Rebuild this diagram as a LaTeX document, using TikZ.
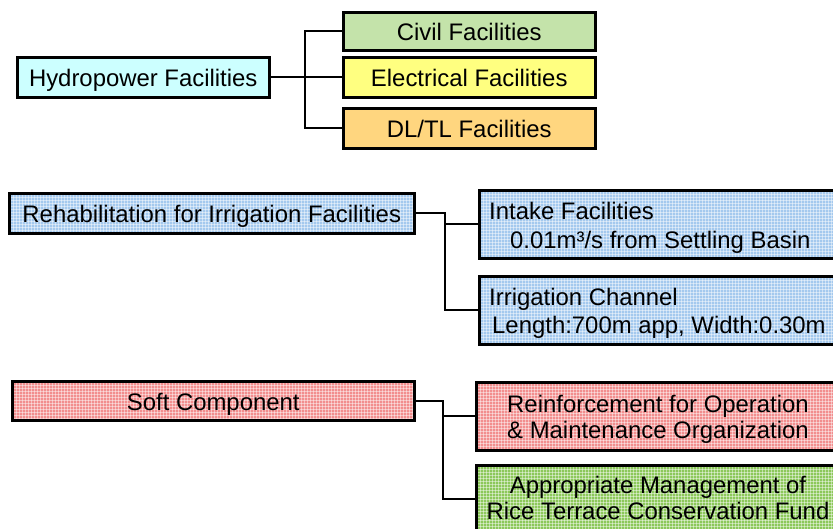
\documentclass[tikz,border=0pt]{standalone}
\usepackage{fontspec}
\setmainfont{Liberation Sans}
\definecolor{hydrofill}{HTML}{CCFFFF}
\definecolor{civilfill}{HTML}{C4E3AA}
\definecolor{elecfill}{HTML}{FFFF80}
\definecolor{linefill}{HTML}{FFD67F}
\definecolor{bluefill}{HTML}{A4C9EE}
\definecolor{pinkfill}{HTML}{F28E8E}
\definecolor{greenfill}{HTML}{8CC85A}
\begin{document}
\begin{tikzpicture}[x=1pt,y=-1pt,
  box/.style={draw=black, line width=2.5pt, inner sep=0pt, anchor=north west,
    font=\fontsize{23.9}{28}\selectfont, text height=19pt, text depth=0pt},
  txt/.style={inner sep=0pt, font=\fontsize{23.9}{28}\selectfont},
  link/.style={draw=black, line width=1.7pt},
  grain/.style={path picture={
    \foreach \k in {1.5,4.5,...,412}{
      \draw[white, opacity=.45, line width=.9pt]
        ([xshift=\k pt]path picture bounding box.north west) --
        ([xshift=\k pt]path picture bounding box.south west);}
    \foreach \k in {1.5,4.5,...,72}{
      \draw[white, opacity=.45, line width=.9pt]
        ([yshift=-\k pt]path picture bounding box.north west) --
        ([yshift=-\k pt]path picture bounding box.north east);}
  }}]
\useasboundingbox (0,0) rectangle (833,528);

% --- hydropower branch ---
\node[box, fill=hydrofill, minimum width=252pt, minimum height=40pt] (hydro) at (16,56) {Hydropower Facilities};
\node[box, fill=civilfill, minimum width=252pt, minimum height=38pt] (civil) at (342,11) {Civil Facilities};
\node[box, fill=elecfill, minimum width=252pt, minimum height=40pt] (elec) at (342,56) {Electrical Facilities};
\node[box, fill=linefill, minimum width=252pt, minimum height=40pt] (dltl) at (342,107) {DL/TL Facilities};
\coordinate (hx) at (305,0);
\draw[link] (hydro.east) -- (hydro.east -| hx);
\draw[link] (civil.west) -- (civil.west -| hx) -- (dltl.west -| hx) -- (dltl.west);
\draw[link] (elec.west) -- (elec.west -| hx);

% --- irrigation branch ---
\node[box, fill=bluefill, grain, minimum width=405pt, minimum height=40pt] (rehab) at (8,192) {Rehabilitation for Irrigation Facilities};
\node[box, fill=bluefill, grain, minimum width=363pt, minimum height=68pt] (intake) at (478,189) {};
\node[box, fill=bluefill, grain, minimum width=363pt, minimum height=68pt] (channel) at (478,275) {};
% multi-line text nodes are placed by the baseline of their last line
\node[txt, anchor=base west, align=left] (intaketxt) at (489,248)
  {Intake Facilities\\[1pt]\hspace*{21pt}0.01m³/s from Settling Basin};
\node[txt, anchor=base west, align=left] (channeltxt) at (489,333)
  {Irrigation Channel\\\hspace*{3pt}Length:700m app, Width:0.30m};
\coordinate (ix) at (445,0);
\draw[link] (rehab.east) -- (rehab.east -| ix) -- (channel.west -| ix) -- (channel.west);
\draw[link] (intake.west) -- (intake.west -| ix);

% --- soft component branch ---
\node[box, fill=pinkfill, grain, minimum width=402pt, minimum height=39pt] (soft) at (11,380) {Soft Component};
\node[box, fill=pinkfill, grain, minimum width=366pt, minimum height=68pt] (reinf) at (475,381) {};
\node[box, fill=greenfill, grain, minimum width=366pt, minimum height=67pt] (fund) at (475,464) {};
\node[txt, anchor=base, align=center] (reinftxt) at (658,438)
  {Reinforcement for Operation\\[-2pt]\& Maintenance Organization};
\node[txt, anchor=base, align=center] (fundtxt) at (658,519)
  {Appropriate Management of\\[-2pt]Rice Terrace Conservation Fund};
\coordinate (sx) at (443,0);
\draw[link] (soft.east) -- (soft.east -| sx) -- (fund.west -| sx) -- (fund.west);
\draw[link] (reinf.west) -- (reinf.west -| sx);
\end{tikzpicture}
\end{document}
